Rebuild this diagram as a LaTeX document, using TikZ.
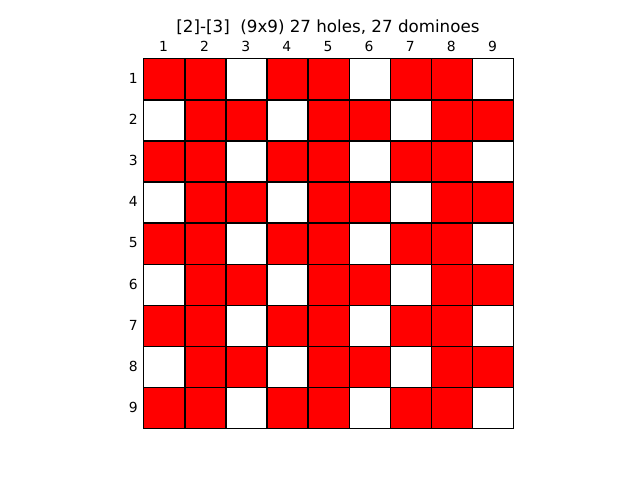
\documentclass[tikz,border=0pt]{standalone}
\usepackage{fontspec}
\setmainfont{DejaVu Sans}
\begin{document}
\begin{tikzpicture}[x=1pt,y=-1pt,
  cellred/.style={fill=red,draw=black,line width=1.39pt},
  cellwhite/.style={fill=white,draw=black,line width=1.39pt},
  ticklab/.style={font=\fontsize{13.9}{16}\selectfont,inner sep=0pt},
  titlelab/.style={font=\fontsize{16.7}{19}\selectfont,inner sep=0pt}]
\useasboundingbox (0,0) rectangle (640,480);
\def\cs{41.11}
\foreach \r in {1,...,9}{
  \foreach \c in {1,...,9}{
    \pgfmathtruncatemacro{\odd}{mod(\r,2)}
    \pgfmathtruncatemacro{\w}{\odd==1 ? (mod(\c,3)==0 ? 1 : 0) : (mod(\c,3)==1 ? 1 : 0)}
    \ifnum\w=1
      \node[cellwhite,minimum size=\cs pt,inner sep=0pt,anchor=north west] (c-\r-\c) at ({143+(\c-1)*\cs},{58+(\r-1)*\cs}) {};
    \else
      \node[cellred,minimum size=\cs pt,inner sep=0pt,anchor=north west] (c-\r-\c) at ({143+(\c-1)*\cs},{58+(\r-1)*\cs}) {};
    \fi
  }
}
\foreach \c in {1,...,9}{
  \node[ticklab,anchor=base] (col-\c) at ({143+(\c-0.5)*\cs},51.5) {\c};
}
\foreach \r in {1,...,9}{
  \node[ticklab,anchor=east] (row-\r) at (138,{58+(\r-0.5)*\cs}) {\r};
}
\node[titlelab,anchor=base] (title) at (328,32.5) {[2]-[3]\ \ (9x9) 27 holes, 27 dominoes};
\end{tikzpicture}
\end{document}
